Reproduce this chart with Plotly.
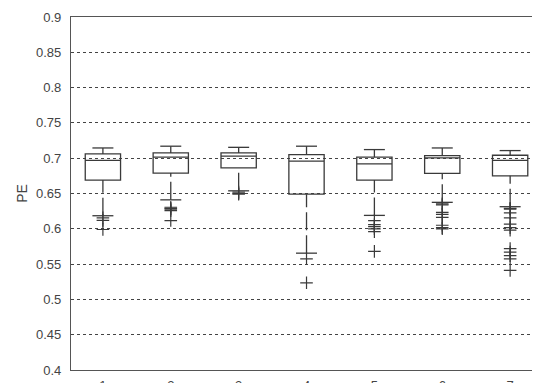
import plotly.graph_objects as go

categories = [1, 2, 3, 4, 5, 6, 7]
q1 = [0.669, 0.679, 0.6864, 0.649, 0.669, 0.6786, 0.6751]
median = [0.697, 0.7014, 0.7028, 0.6958, 0.692, 0.7004, 0.697]
q3 = [0.706, 0.7075, 0.7075, 0.705, 0.7014, 0.7037, 0.7042]
upper = [0.7145, 0.717, 0.7154, 0.717, 0.7122, 0.7145, 0.7108]
lower = [0.6185, 0.641, 0.6538, 0.5655, 0.619, 0.6375, 0.6313]
outliers = [
    [0.6155, 0.612, 0.599],
    [0.6305, 0.629, 0.628, 0.6257, 0.6117],
    [0.652, 0.650, 0.649],
    [0.5575, 0.5235],
    [0.6117, 0.606, 0.603, 0.600, 0.596, 0.568],
    [0.6354, 0.634, 0.6232, 0.6205, 0.6162, 0.605, 0.6016, 0.600],
    [0.629, 0.628, 0.6226, 0.6155, 0.6065, 0.6017, 0.598, 0.572, 0.567, 0.562, 0.5575, 0.541],
]
y_ticks = [0.4, 0.45, 0.5, 0.55, 0.6, 0.65, 0.7, 0.75, 0.8, 0.85, 0.9]
y_ticklabels = ["0.4", "0.45", "0.5", "0.55", "0.6", "0.65", "0.7", "0.75", "0.8", "0.85", "0.9"]

ink = "#3a3a3a"
lw = 1.3
fig = go.Figure()
# boxes (whiskers drawn separately so they can be dashed like the original)
fig.add_trace(go.Box(
    x=categories, q1=q1, median=median, q3=q3,
    lowerfence=q1, upperfence=q3,
    width=0.52, whiskerwidth=0,
    fillcolor="rgba(0,0,0,0)",
    line=dict(color=ink, width=lw),
    boxpoints=False, showlegend=False, hoverinfo="skip",
))

wx, wy = [], []
for c, lo, a in zip(categories, lower, q1):
    wx += [c, c, None]
    wy += [lo, a, None]
fig.add_trace(go.Scatter(
    x=wx, y=wy, mode="lines", showlegend=False, hoverinfo="skip",
    line=dict(color=ink, width=lw, dash="18px,5px"),
))
ux, uy = [], []
for c, hi, b in zip(categories, upper, q3):
    ux += [c, c, None]
    uy += [hi, b, None]
fig.add_trace(go.Scatter(
    x=ux, y=uy, mode="lines", showlegend=False, hoverinfo="skip",
    line=dict(color=ink, width=lw),
))
fig.add_trace(go.Scatter(
    x=categories + categories, y=lower + upper, mode="markers",
    showlegend=False, hoverinfo="skip",
    marker=dict(symbol="line-ew", size=15, line=dict(color=ink, width=lw)),
))

ox, oy = [], []
for c, vals in zip(categories, outliers):
    for v in vals:
        ox.append(c)
        oy.append(v)
fig.add_trace(go.Scatter(
    x=ox, y=oy, mode="markers", showlegend=False, cliponaxis=False,
    marker=dict(symbol="cross-thin", size=9, line=dict(color=ink, width=1.2)),
))

# page body has an 8px default margin, so the figure is sized to the remaining area
fig.update_layout(
    width=532, height=375,
    margin=dict(l=63, r=0, t=9, b=13, autoexpand=False),
    paper_bgcolor="white", plot_bgcolor="white",
    font=dict(family="Liberation Sans, Arial, sans-serif", size=13, color="#444"),
)
fig.update_xaxes(
    range=[0.53, 7.44], tickvals=categories, ticktext=[str(c) for c in categories],
    showgrid=False, zeroline=False, automargin=False,
    showline=True, linecolor="#555", linewidth=1.3, mirror=True,
    ticks="", ticklabelstandoff=3,
)
fig.update_yaxes(
    range=[0.4, 0.9], tickvals=y_ticks, ticktext=y_ticklabels,
    showgrid=True, gridcolor="#444", gridwidth=1, griddash="3px,3px",
    zeroline=False, showline=True, linecolor="#555", linewidth=1.3,
    ticks="", ticklabelstandoff=6, automargin=False,
    title=dict(text="PE", standoff=5, font=dict(size=14, color="#444")),
)

fig.write_html("out.html")
